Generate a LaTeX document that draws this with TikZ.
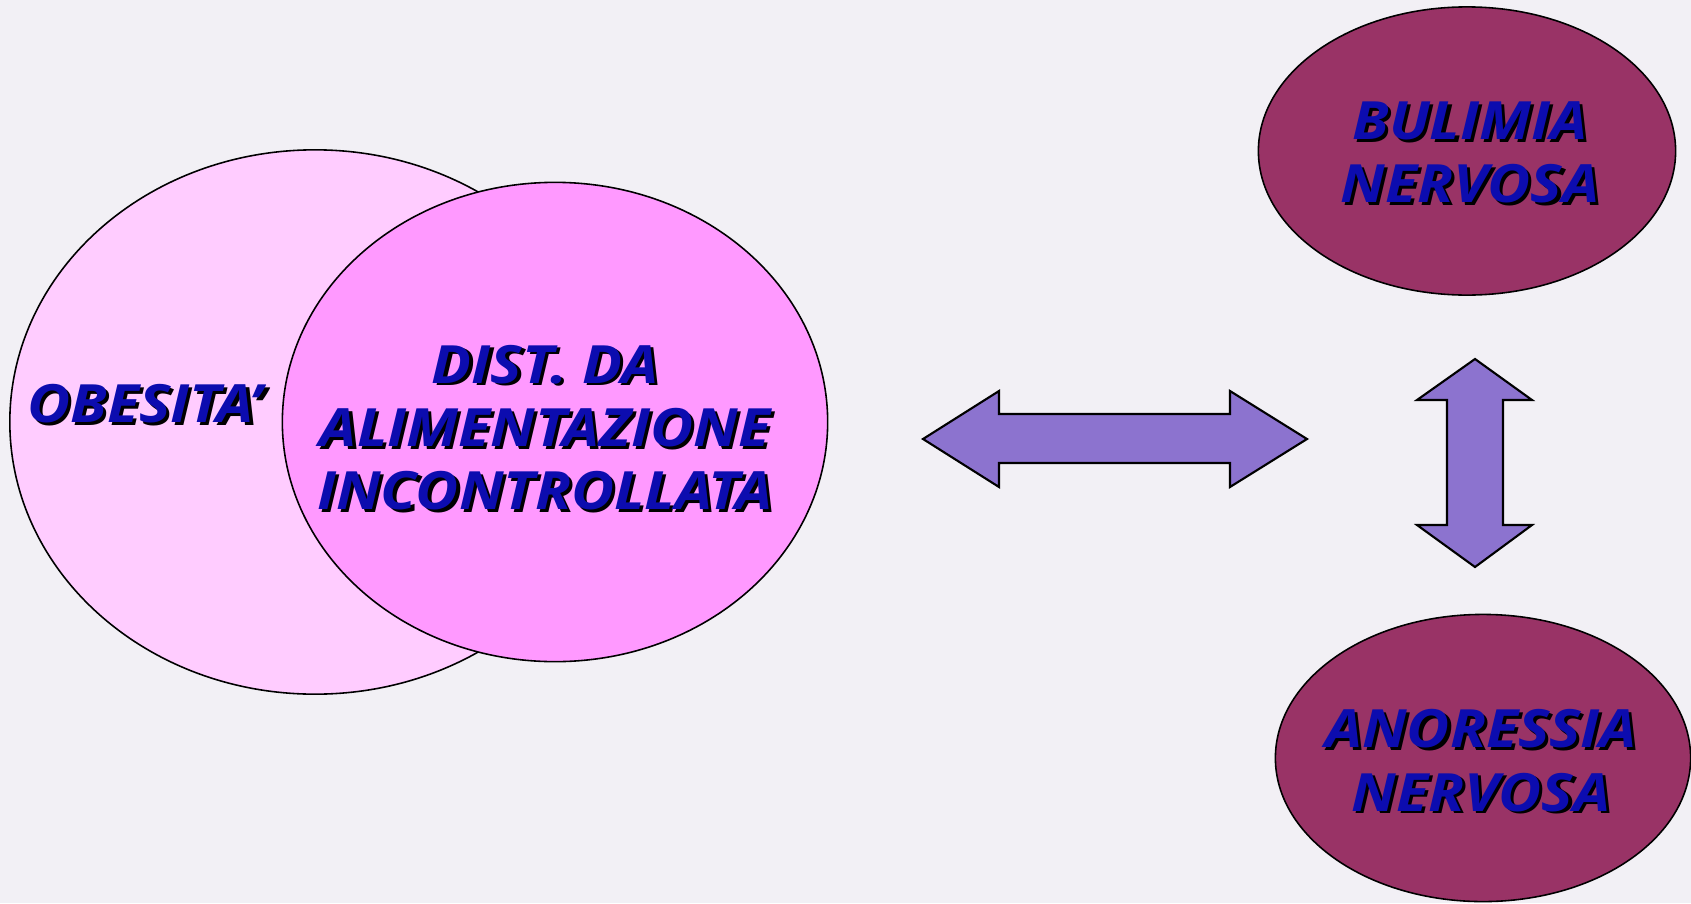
\documentclass[tikz,border=0pt]{standalone}
\usepackage{fontspec}
\usepackage{graphicx}
\setmainfont{Open Sans}
\usetikzlibrary{shapes.geometric}

\definecolor{paper}{HTML}{F2F0F5}
\definecolor{lightpink}{HTML}{FFCCFF}
\definecolor{pink}{HTML}{FF99FF}
\definecolor{plum}{HTML}{993366}
\definecolor{lilac}{HTML}{8C73CF}
\definecolor{txtblue}{HTML}{0C0CAF}

% blue text with a black drop shadow, a bit widened
\newcommand{\shtxt}[1]{\scalebox{1.12}[1]{\makebox[0pt][l]{\hspace{0.8pt}\raisebox{-0.8pt}{\color{black}#1}}{\color{txtblue}#1}}}

\tikzset{
  blob/.style={ellipse, draw=black, line width=0.45pt, inner sep=0pt},
  lbl/.style={align=center, inner sep=0pt, font=\fontsize{15}{18}\selectfont\bfseries\itshape},
  arrowbox/.style={fill=lilac, draw=black, line width=0.6pt, line join=miter}
}

\begin{document}
\begin{tikzpicture}[x=0.01cm,y=-0.01cm]
        \fill[paper] (0,0) rectangle (1691,903);
        \useasboundingbox (0,0) rectangle (1691,903);

        \node[blob, fill=lightpink, minimum width=6.10cm, minimum height=5.44cm] (obesita) at (315,422) {};
        \node[blob, fill=pink, minimum width=5.45cm, minimum height=4.79cm] (dist) at (555,422) {};
        \node[blob, fill=plum, minimum width=4.17cm, minimum height=2.88cm] (bulimia) at (1467,151) {};
        \node[blob, fill=plum, minimum width=4.15cm, minimum height=2.87cm] (anoressia) at (1483,758) {};

        \node[lbl] (tobes) at (145,405) {\shtxt{OBESITA'}};
        \node[lbl] (tdist) at (545,429) {\shtxt{DIST. DA}\\ \shtxt{ALIMENTAZIONE}\\ \shtxt{INCONTROLLATA}};
        \node[lbl] (tbul) at (1470,154) {\shtxt{BULIMIA}\\ \shtxt{NERVOSA}};
        \node[lbl] (tano) at (1481,762) {\shtxt{ANORESSIA}\\ \shtxt{NERVOSA}};

        % horizontal double arrow
        \draw[arrowbox] (923,439) -- (999,391) -- (999,414) -- (1230,414) -- (1230,391)
            -- (1307,439) -- (1230,487) -- (1230,463) -- (999,463) -- (999,487) -- cycle;
        % vertical double arrow
        \draw[arrowbox] (1475,359) -- (1532,400) -- (1503,400) -- (1503,525) -- (1532,525)
            -- (1475,567) -- (1417,525) -- (1447,525) -- (1447,400) -- (1417,400) -- cycle;
\end{tikzpicture}
\end{document}
